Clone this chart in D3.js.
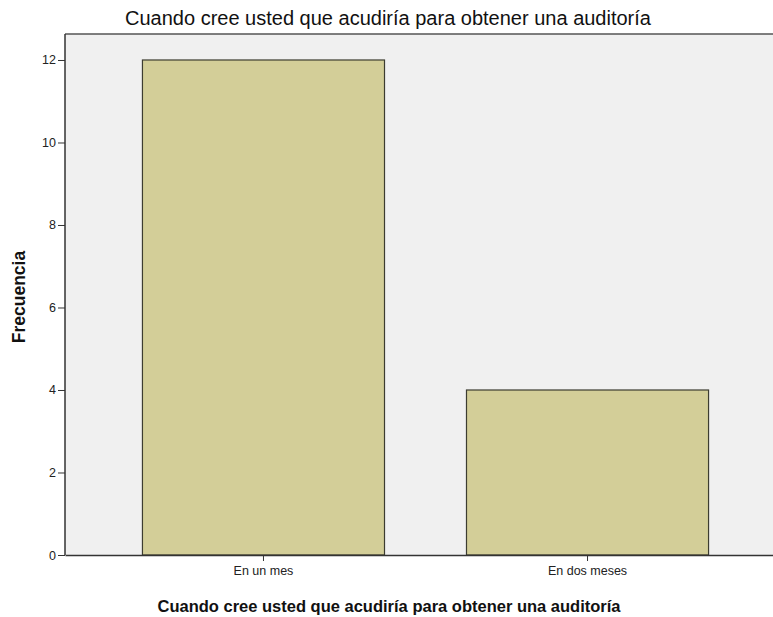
<!DOCTYPE html>
<html>
<head>
<meta charset="utf-8">
<script src="https://cdn.jsdelivr.net/npm/d3@7"></script>
<style>
  body { margin: 0; background: #fff; }
  text { font-family: "Liberation Sans", Arial, sans-serif; }
</style>
</head>
<body>
<svg id="chart" width="773" height="617"></svg>
<script>
// data
var categories = ["En un mes", "En dos meses"];
var counts = [12, 4];
var yTicks = [0, 2, 4, 6, 8, 10, 12];
var chartTitle = "Cuando cree usted que acudiría para obtener una auditoría";
var xTitle = "Cuando cree usted que acudiría para obtener una auditoría";
var yTitle = "Frecuencia";

var svg = d3.select("#chart"),
    margin = { top: 34, right: -13, bottom: 62, left: 65 },
    width = 773 - margin.left - margin.right,
    height = 617 - margin.top - margin.bottom;

var g = svg.append("g").attr("transform", "translate(" + margin.left + "," + margin.top + ")");

var xScale = d3.scaleBand().domain(categories).range([0, width])
        .paddingInner(0.253).paddingOuter(0.239),
    yScale = d3.scaleLinear().domain([0, 12.63]).range([height, 0]);

// plot background
g.append("rect")
    .attr("width", width).attr("height", height)
    .attr("fill", "#f0f0f0");

// top frame line
g.append("line")
    .attr("x1", 0).attr("x2", width).attr("y1", 0).attr("y2", 0)
    .attr("stroke", "#555").attr("stroke-width", 1.5);

// bars
g.selectAll(".bar")
    .data(counts)
    .enter().append("rect")
    .attr("class", "bar")
    .attr("x", function(d, i) { return xScale(categories[i]); })
    .attr("y", function(d) { return yScale(d); })
    .attr("width", xScale.bandwidth())
    .attr("height", function(d) { return height - yScale(d); })
    .attr("fill", "#d3ce98")
    .attr("stroke", "#3c3c30")
    .attr("stroke-width", 1.2);

// x axis
var xAxis = g.append("g")
    .attr("transform", "translate(0," + height + ")")
    .call(d3.axisBottom(xScale).tickSizeInner(6).tickSizeOuter(0).tickPadding(5));
xAxis.select(".domain").attr("stroke", "#333").attr("stroke-width", 1.5);
xAxis.selectAll(".tick line").attr("stroke", "#333");
xAxis.selectAll("text").attr("fill", "#222").style("font-size", "12.5px");

// y axis
var yAxis = g.append("g")
    .call(d3.axisLeft(yScale).tickValues(yTicks).tickSizeInner(7).tickSizeOuter(0).tickPadding(2));
yAxis.select(".domain").attr("stroke", "#333").attr("stroke-width", 1.5)
    .attr("d", "M0," + height + "V0");
yAxis.selectAll(".tick line").attr("stroke", "#333");
yAxis.selectAll("text").attr("fill", "#222").style("font-size", "12.5px");

// titles
svg.append("text")
    .attr("x", 388).attr("y", 25)
    .attr("text-anchor", "middle")
    .style("font-size", "20px")
    .attr("fill", "#111")
    .text(chartTitle);

svg.append("text")
    .attr("x", 389).attr("y", 612)
    .attr("text-anchor", "middle")
    .style("font-size", "16.5px")
    .style("font-weight", "bold")
    .attr("fill", "#111")
    .text(xTitle);

svg.append("text")
    .attr("transform", "translate(25,297) rotate(-90)")
    .attr("text-anchor", "middle")
    .style("font-size", "17.5px")
    .style("font-weight", "bold")
    .attr("fill", "#111")
    .text(yTitle);
</script>
</body>
</html>
